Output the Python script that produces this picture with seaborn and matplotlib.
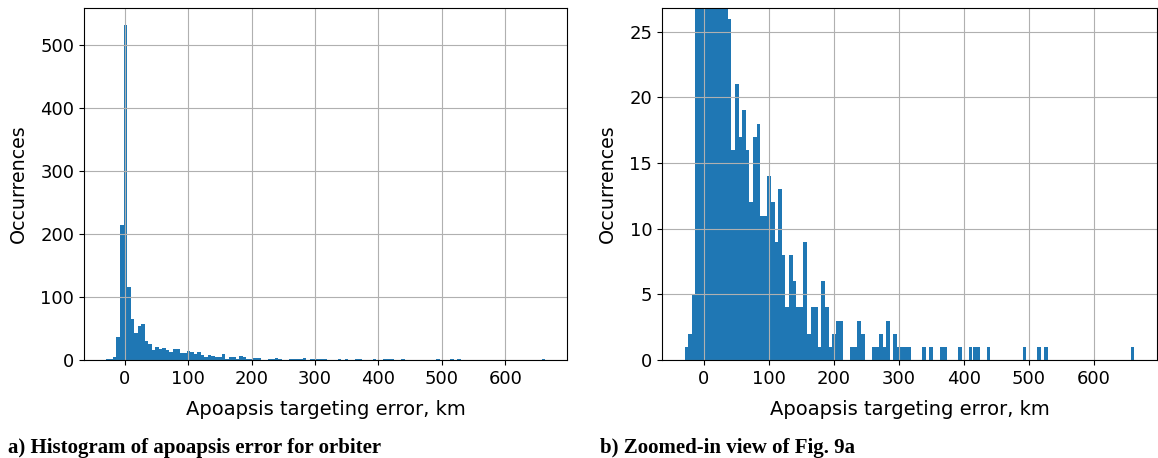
import numpy as np
import pandas as pd
import matplotlib
matplotlib.use("Agg")
import matplotlib.pyplot as plt
import seaborn as sns

# ---- data ----
bin_min = -29.6          # km, left edge of first bin
bin_max = 662.6          # km, right edge of last bin
n_bins = 125
counts = [1, 2, 5, 37, 215, 532, 116, 65, 43, 54,
          57, 30, 26, 16, 21, 17, 19, 16, 12, 17,
          18, 11, 11, 14, 12, 9, 13, 8, 4, 8,
          6, 4, 4, 9, 2, 4, 4, 1, 6, 4,
          1, 2, 3, 3, 0, 0, 1, 1, 3, 2,
          0, 0, 1, 1, 2, 1, 3, 0, 2, 1,
          1, 1, 1, 0, 0, 0, 1, 0, 1, 0,
          0, 1, 1, 0, 0, 0, 1, 0, 0, 1,
          1, 1, 0, 0, 1, 0, 0, 0, 0, 0,
          0, 0, 0, 0, 1, 0, 0, 0, 1, 0,
          1, 0, 0, 0, 0, 0, 0, 0, 0, 0,
          0, 0, 0, 0, 0, 0, 0, 0, 0, 0,
          0, 0, 0, 0, 1]
x_label = "Apoapsis targeting error, km"
y_label = "Occurrences"
caption_a = "a) Histogram of apoapsis error for orbiter"
caption_b = "b) Zoomed-in view of Fig. 9a"
zoom_ylim = (0, 26.8)

edges = np.linspace(bin_min, bin_max, n_bins + 1)
centers = (edges[:-1] + edges[1:]) / 2
df = pd.DataFrame({"error": centers, "n": counts})

plt.rcParams["font.family"] = ["DejaVu Sans"]
fig = plt.figure(figsize=(11.58, 4.58), dpi=100)
ax1 = fig.add_axes([84 / 1158, 98 / 458, 483 / 1158, 352 / 458])
ax2 = fig.add_axes([662 / 1158, 98 / 458, 495 / 1158, 352 / 458])

for ax in (ax1, ax2):
    sns.histplot(data=df, x="error", weights="n", bins=list(edges), ax=ax,
                 color="#1f77b4", alpha=1, edgecolor="none", linewidth=0)
    ax.grid(True, color="#b0b0b0", linewidth=0.8)
    ax.set_xlabel(x_label, fontsize=14, labelpad=9)
    ax.set_ylabel(y_label, fontsize=13.7, labelpad=9)
    ax.tick_params(labelsize=13)
    ax.set_xticks([0, 100, 200, 300, 400, 500, 600])
    for s in ax.spines.values():
        s.set_color("black")
        s.set_linewidth(0.8)

ax2.set_ylim(*zoom_ylim)
ax2.set_yticks([0, 5, 10, 15, 20, 25])

fig.text(8 / 1158, 1 - 453 / 458, caption_a, fontsize=15, fontweight="bold",
         family=["Liberation Serif"], ha="left", va="baseline")
fig.text(600 / 1158, 1 - 453 / 458, caption_b, fontsize=15, fontweight="bold",
         family=["Liberation Serif"], ha="left", va="baseline")

fig.savefig("out.png", dpi=100)
